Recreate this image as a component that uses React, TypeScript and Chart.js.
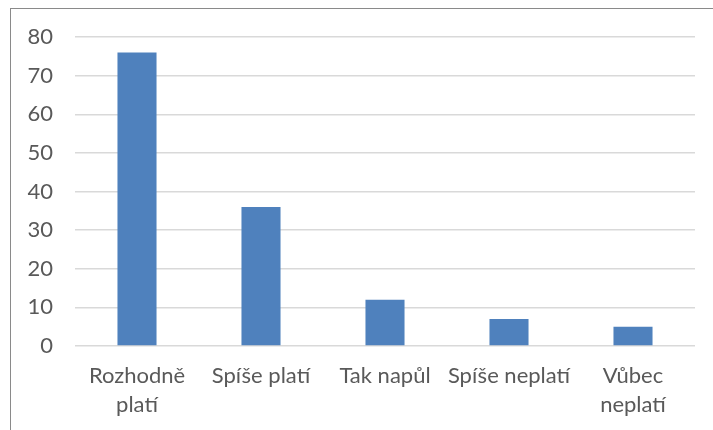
import React, { useEffect, useRef } from "react";
import { Chart, registerables } from "chart.js";

Chart.register(...registerables);

const categories: (string | string[])[] = [
  ["Rozhodně", "platí"],
  "Spíše platí",
  "Tak napůl",
  "Spíše neplatí",
  ["Vůbec", "neplatí"],
];
const values: number[] = [76, 36, 12, 7, 5];
const yMin = 0;
const yMax = 80;
const yStep = 10;

const FONT = "Lato, 'Open Sans', sans-serif";

export default function App() {
  const ref = useRef<HTMLCanvasElement | null>(null);

  useEffect(() => {
    if (!ref.current) return;
    const chart = new Chart(ref.current, {
      type: "bar",
      data: {
        labels: categories,
        datasets: [
          {
            data: values,
            backgroundColor: "#4F81BD",
            borderWidth: 0,
            categoryPercentage: 1,
            barPercentage: 0.315,
          },
        ],
      },
      options: {
        animation: false,
        responsive: false,
        maintainAspectRatio: false,
        layout: { padding: { left: 0, right: 18, top: 37, bottom: 0 } },
        plugins: {
          legend: { display: false },
          tooltip: { enabled: false },
        },
        scales: {
          x: {
            grid: { display: false, drawTicks: false },
            border: { display: false },
            ticks: {
              autoSkip: false,
              maxRotation: 0,
              minRotation: 0,
              padding: 16,
              color: "#595959",
              font: { family: FONT, size: 22, lineHeight: 1.3 },
            },
            afterFit: (scale: any) => {
              scale.height = 84;
            },
          },
          y: {
            min: yMin,
            max: yMax,
            grid: { color: "#D9D9D9", lineWidth: 1.5, drawTicks: false },
            border: { display: false },
            ticks: {
              stepSize: yStep,
              padding: 22,
              color: "#595959",
              font: { family: FONT, size: 22 },
            },
            afterFit: (scale: any) => {
              scale.width = 75;
            },
          },
        },
      },
    });
    return () => chart.destroy();
  }, []);

  return (
    <div
      style={{
        position: "fixed",
        left: 0,
        top: 0,
        width: 713,
        height: 430,
        background: "#fff",
        overflow: "hidden",
      }}
    >
      <div
        style={{
          position: "absolute",
          left: 10,
          top: 8,
          width: 720,
          height: 440,
          border: "1.5px solid #8A8A8A",
          boxSizing: "border-box",
        }}
      />
      <canvas
        ref={ref}
        width={713}
        height={430}
        style={{ position: "absolute", left: 0, top: 0, width: 713, height: 430 }}
      />
    </div>
  );
}
